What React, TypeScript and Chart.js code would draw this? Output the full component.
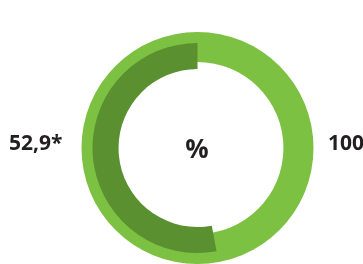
import React, { useEffect, useRef } from "react";
import { Chart, registerables } from "chart.js";

Chart.register(...registerables);

const ringLabels = ["Рівень", "Залишок"];
const fullValues = [100];
const partValues = [52.9];
const leftLabel = "52,9*";
const centerLabel = "%";
const rightLabel = "100";

const W = 363;
const H = 264;
const LIGHT = "#7cc142";
const DARK = "#5a902f";
const TEXT = "#231f20";

const textPlugin = {
  id: "sideTexts",
  afterDraw(chart: any) {
    const ctx = chart.ctx;
    ctx.save();
    ctx.fillStyle = TEXT;
    ctx.textBaseline = "alphabetic";
    ctx.font = "bold 21px 'Open Sans'";
    ctx.textAlign = "left";
    ctx.fillText(leftLabel, 9, 150);
    ctx.fillText(rightLabel, 328, 150);
    ctx.font = "bold 26px 'Open Sans'";
    ctx.textAlign = "center";
    ctx.fillText(centerLabel, 197, 158);
    ctx.restore();
  },
};

export default function App() {
  const lightRef = useRef<HTMLCanvasElement>(null);
  const darkRef = useRef<HTMLCanvasElement>(null);

  useEffect(() => {
    const base = {
      responsive: false,
      animation: false as const,
      events: [],
      layout: { padding: { left: 32, top: 32, right: 0, bottom: 0 } },
      plugins: { legend: { display: false }, tooltip: { enabled: false } },
    };
    const light = new Chart(lightRef.current!, {
      type: "doughnut",
      data: {
        labels: [ringLabels[0]],
        datasets: [
          {
            data: fullValues,
            backgroundColor: [LIGHT],
            borderWidth: 0,
          },
        ],
      },
      options: { ...base, radius: 116, cutout: "74.1%" } as any,
    });
    const dark = new Chart(darkRef.current!, {
      type: "doughnut",
      data: {
        labels: [ringLabels[1], ringLabels[0]],
        datasets: [
          {
            data: [fullValues[0] - partValues[0], partValues[0]],
            backgroundColor: ["rgba(0,0,0,0)", DARK],
            borderWidth: 0,
          },
        ],
      },
      options: { ...base, radius: 105, cutout: "75.2%" } as any,
      plugins: [textPlugin],
    });
    return () => {
      light.destroy();
      dark.destroy();
    };
  }, []);

  return (
    <div style={{ position: "fixed", left: 0, top: 0, width: W, height: H, background: "#fff" }}>
      <canvas ref={lightRef} width={W} height={H} style={{ position: "absolute", left: 0, top: 0 }} />
      <canvas ref={darkRef} width={W} height={H} style={{ position: "absolute", left: 0, top: 0 }} />
    </div>
  );
}
